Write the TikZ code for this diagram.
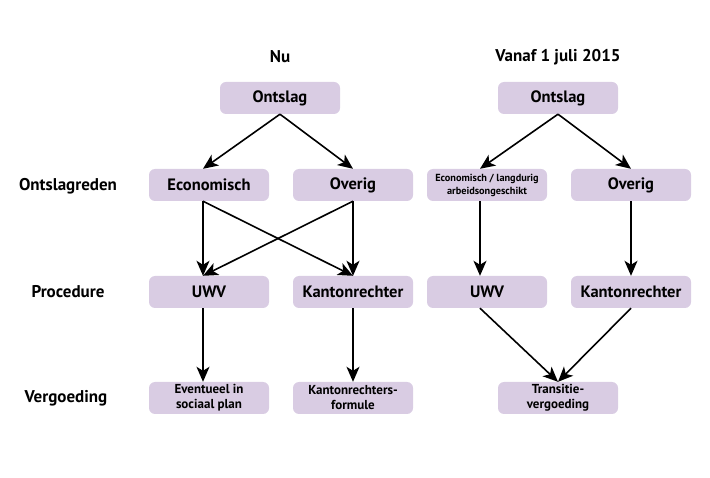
\documentclass[tikz,border=0pt]{standalone}
\usepackage{fontspec}
\setmainfont{PT Sans}
\usetikzlibrary{arrows.meta}
\definecolor{boxfill}{RGB}{217,204,227}
\tikzset{
  box/.style={fill=boxfill, rounded corners=6pt, minimum width=120pt,
    minimum height=32pt, inner sep=1pt, align=center,
    font=\fontsize{16.5}{17}\selectfont\bfseries},
  smallbox/.style={box, font=\fontsize{13}{15}\selectfont\bfseries},
  tinybox/.style={box, font=\fontsize{10.3}{13}\selectfont\bfseries},
  rowlabel/.style={font=\fontsize{17}{18}\selectfont\bfseries},
  pijl/.style={line width=1.6pt, -{Stealth[length=15pt, width=13pt, inset=4pt]}}
}
\begin{document}
\begin{tikzpicture}[x=1pt, y=-1pt]
  \useasboundingbox (0,0) rectangle (710,478);
  \def\dx{6}
  % kopjes
  \node[rowlabel] (nu) at (280,57) {Nu};
  \node[rowlabel] (vanaf) at (558,57) {Vanaf 1 juli 2015};
  \node[rowlabel] (lreden) at (68,186) {Ontslagreden};
  \node[rowlabel] (lproc) at (68,292) {Procedure};
  \node[rowlabel] (lverg) at (66,398) {Vergoeding};
  % nu
  \node[box] (ontslagA) at (280,98) {Ontslag};
  \node[box] (econA) at (209,185) {Economisch};
  \node[box] (overigA) at (353,185) {Overig};
  \node[box] (uwvA) at (209,292) {UWV};
  \node[box] (kantonA) at (353,292) {Kantonrechter};
  \node[smallbox] (eventueel) at (209,398) {Eventueel in\\sociaal plan};
  \node[smallbox] (formule) at (353,398) {Kantonrechters-\\formule};
  % vanaf 1 juli 2015
  \node[box] (ontslagB) at (558,98) {Ontslag};
  \node[tinybox] (econB) at (487,185) {Economisch / langdurig\\arbeidsongeschikt};
  \node[box] (overigB) at (631,185) {Overig};
  \node[box] (uwvB) at (487,292) {UWV};
  \node[box] (kantonB) at (631,292) {Kantonrechter};
  \node[smallbox] (transitie) at (558,398) {Transitie-\\vergoeding};
  % pijlen nu
  \draw[pijl] (ontslagA.south) -- ([xshift=-\dx pt]econA.north);
  \draw[pijl] (ontslagA.south) -- (overigA.north);
  \draw[pijl] ([xshift=-\dx pt]econA.south) -- ([xshift=-\dx pt]uwvA.north);
  \draw[pijl] ([xshift=-\dx pt]econA.south) -- (kantonA.north);
  \draw[pijl] (overigA.south) -- ([xshift=-\dx pt]uwvA.north);
  \draw[pijl] (overigA.south) -- (kantonA.north);
  \draw[pijl] ([xshift=-\dx pt]uwvA.south) -- ([xshift=-\dx pt]eventueel.north);
  \draw[pijl] (kantonA.south) -- (formule.north);
  % pijlen vanaf 1 juli 2015
  \draw[pijl] (ontslagB.south) -- ([xshift=-7pt]econB.north);
  \draw[pijl] (ontslagB.south) -- (overigB.north);
  \draw[pijl] ([xshift=-7pt]econB.south) -- ([xshift=-7pt]uwvB.north);
  \draw[pijl] (overigB.south) -- (kantonB.north);
  \draw[pijl] ([xshift=-7pt]uwvB.south) -- (transitie.north);
  \draw[pijl] (kantonB.south) -- (transitie.north);
\end{tikzpicture}
\end{document}
